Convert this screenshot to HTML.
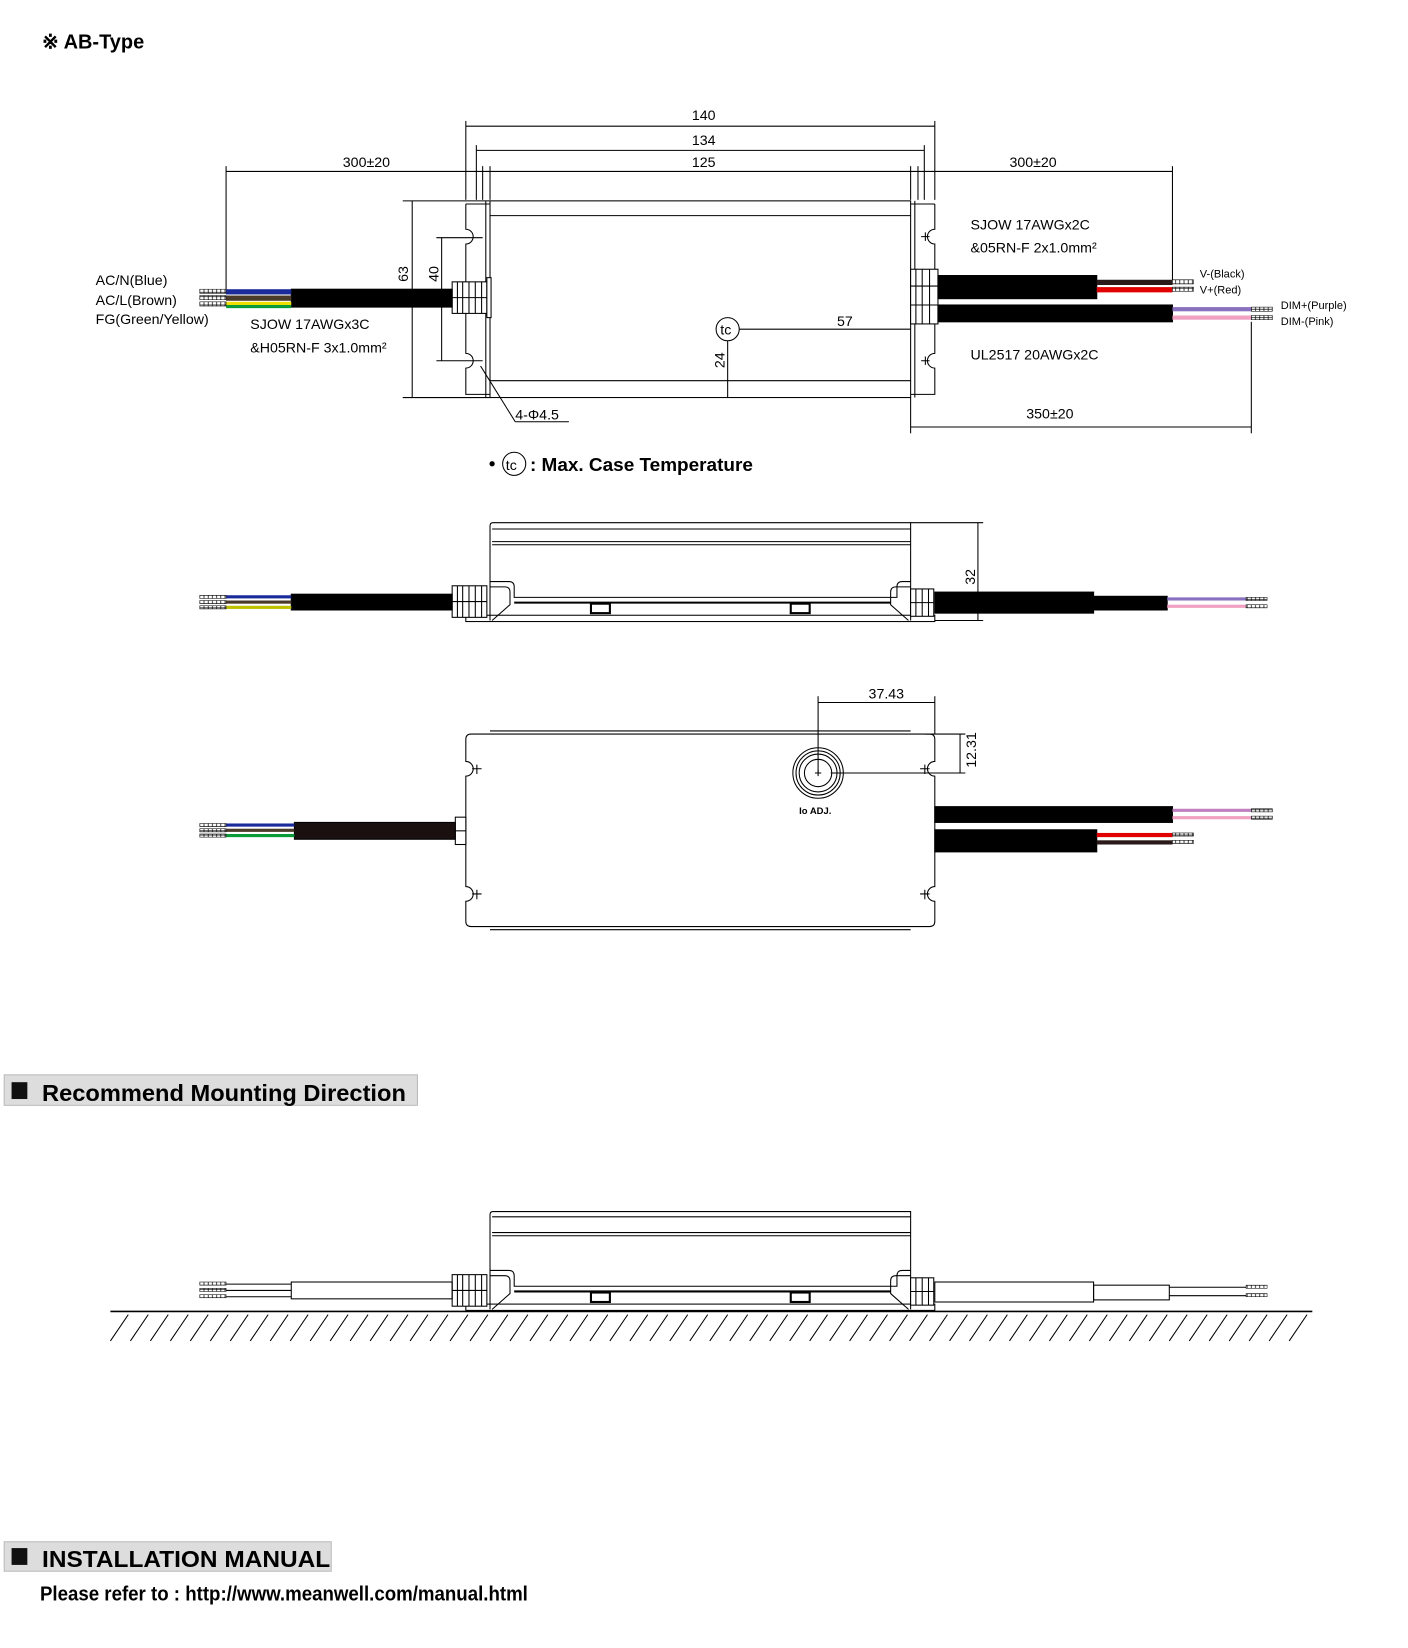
<!DOCTYPE html>
<html><head><meta charset="utf-8">
<style>
html,body{margin:0;padding:0;background:#fff;width:1408px;height:1648px;overflow:hidden}
svg{display:block}
text{font-family:"Liberation Sans",sans-serif;fill:#000}
.n{font-size:13.5px}
.s{font-size:10.5px}
.b{font-weight:bold}
</style></head><body>
<svg width="1408" height="1648" viewBox="0 0 1339 1567" preserveAspectRatio="none" xmlns="http://www.w3.org/2000/svg">
<defs>
<pattern id="tip" width="4" height="4" patternUnits="userSpaceOnUse"><rect width="4" height="4" fill="#fff"/><path d="M0 2h4M2 0v4" stroke="#000" stroke-width="0.7"/></pattern>
</defs>
<g stroke="#000" fill="none" stroke-width="1">

<text x="40" y="46" class="b" style="font-size:19px" stroke="none">※ AB-Type</text>
<line x1="443" y1="115" x2="443" y2="190"/><line x1="889" y1="115" x2="889" y2="190"/>
<line x1="443" y1="120" x2="889" y2="120"/>
<line x1="453" y1="138" x2="453" y2="190"/><line x1="879" y1="138" x2="879" y2="190"/>
<line x1="453" y1="143" x2="879" y2="143"/>
<line x1="459" y1="158" x2="459" y2="190"/><line x1="873" y1="158" x2="873" y2="190"/>
<line x1="215" y1="163" x2="1115" y2="163"/>
<line x1="215" y1="158" x2="215" y2="275"/><line x1="1115" y1="158" x2="1115" y2="266"/>
<line x1="466" y1="158" x2="466" y2="190"/><line x1="866" y1="158" x2="866" y2="190"/>
<text x="658" y="114" class="n" stroke="none">140</text>
<text x="658" y="138" class="n" stroke="none">134</text>
<text x="658" y="159" class="n" stroke="none">125</text>
<text x="326" y="159" class="n" stroke="none">300±20</text>
<text x="960" y="159" class="n" stroke="none">300±20</text>

<path d="M443 194 V218 a7 7 0 0 1 0 14 V336 a7 7 0 0 1 0 14 V375 H466"/>
<path d="M889 194 V218 a7 7 0 0 0 0 14 V336 a7 7 0 0 0 0 14 V375 H866"/>
<path d="M443 194 H466 M866 194 H889"/>
<rect x="466" y="191" width="400" height="187"/>
<line x1="466" y1="205" x2="866" y2="205"/>
<line x1="466" y1="362" x2="866" y2="362"/>
<line x1="462" y1="191" x2="462" y2="378"/><line x1="870" y1="191" x2="870" y2="378"/>
<path d="M876 225h8M880 221v8M876 343h8M880 339v8"/>
<rect x="430" y="268" width="33" height="30" fill="#fff"/>
<path d="M435 268v30M440 268v30M446 268v30M452 268v30M458 268v30M430 283h33"/>
<rect x="463" y="264" width="4" height="38" fill="#fff"/>
<rect x="866" y="256" width="26" height="52" fill="#fff"/>
<path d="M871 256v52M877 256v52M884 256v52M866 272h26M866 290h26"/>
<rect x="277" y="275" width="153" height="17" fill="#000"/>
<rect x="215" y="275" width="62" height="5" fill="#1a2a9a" stroke="none"/>
<rect x="215" y="281" width="62" height="5" fill="#4a3a2a" stroke="none"/>
<rect x="215" y="287" width="62" height="3" fill="#f0e000" stroke="none"/>
<rect x="215" y="290" width="62" height="3" fill="#0a9a3a" stroke="none"/>
<rect x="190" y="275" width="25" height="4" fill="url(#tip)" stroke-width="0.5"/>
<rect x="190" y="281" width="25" height="4" fill="url(#tip)" stroke-width="0.5"/>
<rect x="190" y="287" width="25" height="4" fill="url(#tip)" stroke-width="0.5"/>
<rect x="892" y="262" width="151" height="22" fill="#000"/>
<rect x="1043" y="266" width="72" height="5" fill="#2a1a1a" stroke="none"/>
<rect x="1043" y="273" width="72" height="5" fill="#e00000" stroke="none"/>
<rect x="1115" y="266" width="20" height="4" fill="url(#tip)" stroke-width="0.5"/>
<rect x="1115" y="273" width="20" height="4" fill="url(#tip)" stroke-width="0.5"/>
<rect x="892" y="290" width="223" height="16" fill="#000"/>
<rect x="1115" y="292" width="75" height="4" fill="#8a70c0" stroke="none"/>
<rect x="1115" y="300" width="75" height="4" fill="#f0a0c0" stroke="none"/>
<rect x="1190" y="292" width="20" height="4" fill="url(#tip)" stroke-width="0.5"/>
<rect x="1190" y="300" width="20" height="4" fill="url(#tip)" stroke-width="0.5"/>
<line x1="383" y1="191" x2="466" y2="191"/><line x1="383" y1="378" x2="466" y2="378"/>
<line x1="392" y1="191" x2="392" y2="378"/>
<line x1="415" y1="226" x2="459" y2="226"/><line x1="415" y1="343" x2="459" y2="343"/>
<line x1="420" y1="226" x2="420" y2="343"/>
<text transform="translate(388,268) rotate(-90)" class="n" stroke="none">63</text>
<text transform="translate(417,268) rotate(-90)" class="n" stroke="none">40</text>
<circle cx="692" cy="313" r="11"/>
<text x="685" y="318" class="n" stroke="none">tc</text>
<line x1="703" y1="313" x2="866" y2="313"/>
<line x1="692" y1="324" x2="692" y2="378"/>
<text x="796" y="310" class="n" stroke="none">57</text>
<text transform="translate(689,350) rotate(-90)" class="n" stroke="none">24</text>
<line x1="457" y1="348" x2="490" y2="401"/><line x1="490" y1="401" x2="541" y2="401"/>
<text x="490" y="399" class="n" stroke="none">4-Φ4.5</text>
<line x1="866" y1="378" x2="866" y2="412"/><line x1="1190" y1="306" x2="1190" y2="412"/>
<line x1="866" y1="406" x2="1190" y2="406"/>
<text x="976" y="398" class="n" stroke="none">350±20</text>
<text x="91" y="271" class="n" stroke="none">AC/N(Blue)</text>
<text x="91" y="290" class="n" stroke="none">AC/L(Brown)</text>
<text x="91" y="308" class="n" stroke="none">FG(Green/Yellow)</text>
<text x="238" y="313" class="n" stroke="none">SJOW 17AWGx3C</text>
<text x="238" y="335" class="n" stroke="none">&amp;H05RN-F 3x1.0mm²</text>
<text x="923" y="218" class="n" stroke="none">SJOW 17AWGx2C</text>
<text x="923" y="240" class="n" stroke="none">&amp;05RN-F 2x1.0mm²</text>
<text x="923" y="342" class="n" stroke="none">UL2517 20AWGx2C</text>
<text x="1141" y="264" class="s" stroke="none">V-(Black)</text>
<text x="1141" y="279" class="s" stroke="none">V+(Red)</text>
<text x="1218" y="294" class="s" stroke="none">DIM+(Purple)</text>
<text x="1218" y="309" class="s" stroke="none">DIM-(Pink)</text>
<circle cx="468" cy="441" r="2" fill="#000"/>
<circle cx="489" cy="441" r="11"/>
<text x="481" y="447" class="n" stroke="none">tc</text>
<text x="504" y="448" class="b" style="font-size:18px" stroke="none" textLength="212" lengthAdjust="spacingAndGlyphs">: Max. Case Temperature</text>

<path d="M466 590 V500 q0-3 3-3 H866 V590"/>
<line x1="468" y1="503" x2="866" y2="503"/>
<line x1="468" y1="515" x2="866" y2="515"/>
<line x1="468" y1="518" x2="866" y2="518"/>
<path d="M466 553 H484 q5 0 5 5 V568 H853 V558 q0-5 5-5 H866"/>
<path d="M466 558 H480 q5 0 5 5 V575 L468 590"/>
<path d="M866 558 H852 q-5 0-5 5 V575 L864 590"/>
<line x1="489" y1="573" x2="847" y2="573" stroke-width="2"/>
<rect x="443" y="585" width="446" height="6"/>
<rect x="562" y="574" width="18" height="9" stroke-width="2"/>
<rect x="752" y="574" width="18" height="9" stroke-width="2"/>
<rect x="430" y="557" width="33" height="30" fill="#fff"/>
<path d="M435 557v30M440 557v30M446 557v30M452 557v30M458 557v30M430 572h33"/>
<rect x="866" y="560" width="22" height="26" fill="#fff"/>
<path d="M871 560v26M877 560v26M883 560v26M866 573h22"/>
<rect x="277" y="565" width="153" height="15" fill="#000"/>
<rect x="215" y="566" width="62" height="3" fill="#1a2a9a" stroke="none"/>
<rect x="215" y="571" width="62" height="3" fill="#4a3a2a" stroke="none"/>
<rect x="215" y="576" width="62" height="3" fill="#c0c000" stroke="none"/>
<rect x="190" y="566" width="25" height="3" fill="url(#tip)" stroke-width="0.5"/>
<rect x="190" y="571" width="25" height="3" fill="url(#tip)" stroke-width="0.5"/>
<rect x="190" y="576" width="25" height="3" fill="url(#tip)" stroke-width="0.5"/>
<rect x="889" y="563" width="151" height="20" fill="#000"/>
<rect x="1040" y="567" width="70" height="13" fill="#000"/>
<rect x="1110" y="568" width="75" height="3" fill="#8a70c0" stroke="none"/>
<rect x="1110" y="575" width="75" height="3" fill="#f0a0c0" stroke="none"/>
<rect x="1185" y="568" width="20" height="3" fill="url(#tip)" stroke-width="0.5"/>
<rect x="1185" y="575" width="20" height="3" fill="url(#tip)" stroke-width="0.5"/>
<line x1="866" y1="497" x2="935" y2="497"/><line x1="889" y1="590" x2="935" y2="590"/>
<line x1="930" y1="497" x2="930" y2="590"/>
<text transform="translate(927,556) rotate(-90)" class="n" stroke="none">32</text>

<path d="M448 698 H884 q5 0 5 5 V724 a7 7 0 0 0 0 14 V843 a7 7 0 0 0 0 14 V876 q0 5-5 5 H448 q-5 0-5-5 V857 a7 7 0 0 0 0-14 V738 a7 7 0 0 0 0-14 V703 q0-5 5-5z"/>
<line x1="466" y1="695" x2="866" y2="695"/><line x1="466" y1="884" x2="866" y2="884"/>
<path d="M449 731h9M453.5 727v9M449 850h9M453.5 846v9M875 731h9M879.5 727v9M875 850h9M879.5 846v9"/>
<circle cx="778" cy="735" r="24"/><circle cx="778" cy="735" r="21"/><circle cx="778" cy="735" r="18"/><circle cx="778" cy="735" r="13"/>
<path d="M775 735h6M778 732v6"/>
<text x="760" y="774" style="font-size:9px" class="b" stroke="none">Io  ADJ.</text>
<line x1="778" y1="662" x2="778" y2="735"/><line x1="889" y1="662" x2="889" y2="698"/>
<line x1="778" y1="668" x2="889" y2="668"/>
<text x="826" y="664" class="n" stroke="none">37.43</text>
<line x1="880" y1="698" x2="918" y2="698"/><line x1="790" y1="735" x2="918" y2="735"/>
<line x1="913" y1="698" x2="913" y2="735"/>
<text transform="translate(928,730) rotate(-90)" class="n" stroke="none">12.31</text>
<rect x="433" y="777" width="10" height="26" fill="#fff"/>
<line x1="433" y1="790" x2="443" y2="790"/>
<rect x="280" y="782" width="153" height="16" fill="#1a1010"/>
<rect x="215" y="783" width="65" height="3" fill="#1a2a9a" stroke="none"/>
<rect x="215" y="788" width="65" height="3" fill="#4a3a2a" stroke="none"/>
<rect x="215" y="793" width="65" height="3" fill="#0a9a3a" stroke="none"/>
<rect x="190" y="783" width="25" height="3" fill="url(#tip)" stroke-width="0.5"/>
<rect x="190" y="788" width="25" height="3" fill="url(#tip)" stroke-width="0.5"/>
<rect x="190" y="793" width="25" height="3" fill="url(#tip)" stroke-width="0.5"/>
<rect x="889" y="767" width="226" height="15" fill="#000"/>
<rect x="1115" y="769" width="75" height="3" fill="#c080c0" stroke="none"/>
<rect x="1115" y="776" width="75" height="3" fill="#f0a0c0" stroke="none"/>
<rect x="1190" y="769" width="20" height="3" fill="url(#tip)" stroke-width="0.5"/>
<rect x="1190" y="776" width="20" height="3" fill="url(#tip)" stroke-width="0.5"/>
<rect x="889" y="789" width="154" height="21" fill="#000"/>
<rect x="1043" y="792" width="72" height="4" fill="#e00000" stroke="none"/>
<rect x="1043" y="799" width="72" height="4" fill="#2a1a1a" stroke="none"/>
<rect x="1115" y="792" width="20" height="3" fill="url(#tip)" stroke-width="0.5"/>
<rect x="1115" y="799" width="20" height="3" fill="url(#tip)" stroke-width="0.5"/>

<rect x="4" y="1022" width="393" height="29" fill="#ddd" stroke="#bbb"/>
<rect x="11" y="1029" width="15" height="16" fill="#111" stroke="none"/>
<text x="40" y="1047" class="b" style="font-size:22px" stroke="none" textLength="346" lengthAdjust="spacingAndGlyphs">Recommend Mounting Direction</text>

<path d="M466 1245 V1155 q0-3 3-3 H866 V1245"/>
<line x1="468" y1="1157" x2="866" y2="1157"/>
<line x1="468" y1="1172" x2="866" y2="1172"/>
<line x1="468" y1="1175" x2="866" y2="1175"/>
<path d="M466 1208 H484 q5 0 5 5 V1223 H853 V1213 q0-5 5-5 H866"/>
<path d="M466 1213 H480 q5 0 5 5 V1230 L468 1245"/>
<path d="M866 1213 H852 q-5 0-5 5 V1230 L864 1245"/>
<line x1="489" y1="1228" x2="847" y2="1228" stroke-width="2"/>
<rect x="562" y="1229" width="18" height="9" stroke-width="2"/>
<rect x="752" y="1229" width="18" height="9" stroke-width="2"/>
<rect x="443" y="1240" width="446" height="6"/>
<rect x="430" y="1212" width="33" height="30" fill="#fff"/>
<path d="M435 1212v30M440 1212v30M446 1212v30M452 1212v30M458 1212v30M430 1227h33"/>
<rect x="866" y="1215" width="22" height="26" fill="#fff"/>
<path d="M871 1215v26M877 1215v26M883 1215v26M866 1228h22"/>
<rect x="277" y="1219" width="153" height="16"/>
<path d="M215 1221H277M215 1227H277M215 1233H277"/>
<rect x="190" y="1219" width="25" height="3" fill="url(#tip)" stroke-width="0.5"/>
<rect x="190" y="1225" width="25" height="3" fill="url(#tip)" stroke-width="0.5"/>
<rect x="190" y="1231" width="25" height="3" fill="url(#tip)" stroke-width="0.5"/>
<rect x="889" y="1219" width="151" height="19"/>
<rect x="1040" y="1222" width="72" height="14"/>
<path d="M1112 1224H1185M1112 1232H1185"/>
<rect x="1185" y="1222" width="20" height="3" fill="url(#tip)" stroke-width="0.5"/>
<rect x="1185" y="1230" width="20" height="3" fill="url(#tip)" stroke-width="0.5"/>
<line x1="105" y1="1247" x2="1248" y2="1247" stroke-width="1.5"/>
<path d="M122 1250L105 1275M141 1250L124 1275M160 1250L143 1275M179 1250L162 1275M198 1250L181 1275M217 1250L200 1275M236 1250L219 1275M255 1250L238 1275M274 1250L257 1275M293 1250L276 1275M312 1250L295 1275M331 1250L314 1275M350 1250L333 1275M369 1250L352 1275M388 1250L371 1275M407 1250L390 1275M426 1250L409 1275M445 1250L428 1275M464 1250L447 1275M483 1250L466 1275M502 1250L485 1275M521 1250L504 1275M540 1250L523 1275M559 1250L542 1275M578 1250L561 1275M597 1250L580 1275M616 1250L599 1275M635 1250L618 1275M654 1250L637 1275M673 1250L656 1275M692 1250L675 1275M711 1250L694 1275M730 1250L713 1275M749 1250L732 1275M768 1250L751 1275M787 1250L770 1275M806 1250L789 1275M825 1250L808 1275M844 1250L827 1275M863 1250L846 1275M882 1250L865 1275M901 1250L884 1275M920 1250L903 1275M939 1250L922 1275M958 1250L941 1275M977 1250L960 1275M996 1250L979 1275M1015 1250L998 1275M1034 1250L1017 1275M1053 1250L1036 1275M1072 1250L1055 1275M1091 1250L1074 1275M1110 1250L1093 1275M1129 1250L1112 1275M1148 1250L1131 1275M1167 1250L1150 1275M1186 1250L1169 1275M1205 1250L1188 1275M1224 1250L1207 1275M1243 1250L1226 1275"/>

<rect x="4" y="1466" width="311" height="28" fill="#ddd" stroke="#bbb"/>
<rect x="11" y="1472" width="15" height="16" fill="#111" stroke="none"/>
<text x="40" y="1490" class="b" style="font-size:22px" stroke="none" textLength="274" lengthAdjust="spacingAndGlyphs">INSTALLATION MANUAL</text>
<text x="38" y="1522" class="b" style="font-size:19px" stroke="none" textLength="464" lengthAdjust="spacingAndGlyphs">Please refer to : http://www.meanwell.com/manual.html</text>
</g>
</svg>
</body></html>
